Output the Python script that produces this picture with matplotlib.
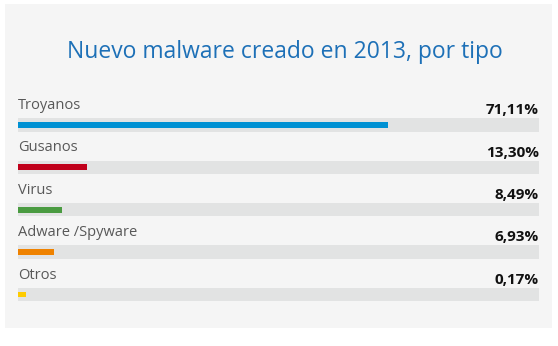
import numpy as np
import matplotlib.pyplot as plt
from matplotlib.patches import Rectangle

categories = ['Troyanos', 'Gusanos', 'Virus', 'Adware /Spyware', 'Otros']
values = [71.11, 13.30, 8.49, 6.93, 0.17]
value_labels = ['71,11%', '13,30%', '8,49%', '6,93%', '0,17%']
colors = ['#0091d3', '#c0001b', '#4a9b41', '#ef8200', '#fecb00']

plt.rcParams['font.family'] = ['Open Sans', 'DejaVu Sans']

W, H = 558, 346
fig = plt.figure(figsize=(W / 100, H / 100), dpi=100)
fig.patch.set_facecolor('white')

# background panel and title, in pixel coordinates
bg = fig.add_axes([0, 0, 1, 1])
bg.set_xlim(0, W)
bg.set_ylim(H, 0)
bg.axis('off')
bg.add_patch(Rectangle((5, 4), 547, 324, facecolor='#f5f5f5', edgecolor='none'))
bg.text(284.5, 57.5, 'Nuevo malware creado en 2013, por tipo', ha='center', va='baseline',
        fontsize=16.5, color='#1d70b7')

# bars: track spans 0-100 %
left, right = 18, 539
row_step = 42.4
first_center = 124.9
top = first_center - row_step / 2
bottom = top + row_step * len(categories)
ax = fig.add_axes([left / W, (H - bottom) / H, (right - left) / W, (bottom - top) / H])
ax.set_xlim(0, 100)
ax.set_ylim(len(categories) - 0.5, -0.5)
ax.axis('off')

y = np.arange(len(categories))
ax.barh(y, [100] * len(categories), height=0.32, color='#e2e3e3', left=0)
# keep tiny shares visible
shown = np.maximum(values, 1.5)
ax.barh(y, shown, height=0.14, color=colors, left=0)

for i, (cat, lab) in enumerate(zip(categories, value_labels)):
    ax.text(0, i - 0.375, cat, ha='left', va='baseline', fontsize=10.5, color='#585858')
    ax.text(100, i - 0.25, lab, ha='right', va='baseline', fontsize=11,
            fontweight='bold', color='#111111')

fig.savefig('out.png', dpi=100, facecolor=fig.get_facecolor())
